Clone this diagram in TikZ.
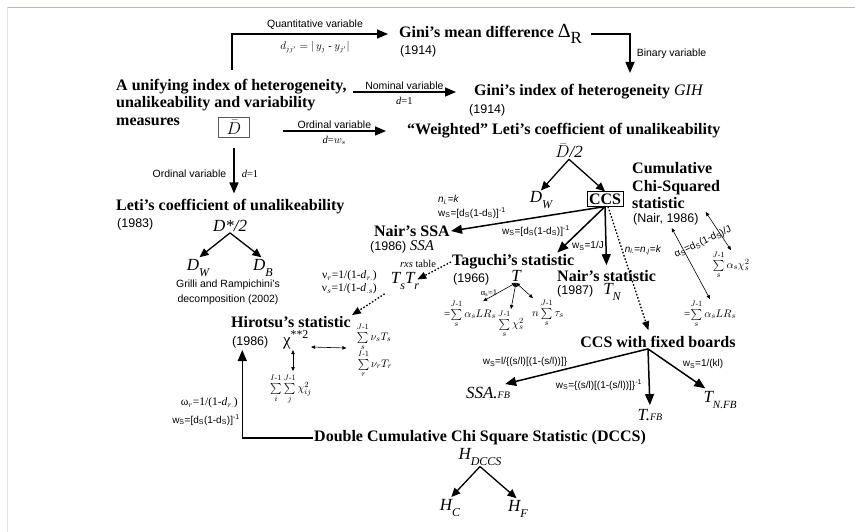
\documentclass[tikz,border=0pt]{standalone}
\usepackage{amsmath}
\usepackage{fontspec}
\setmainfont{Liberation Serif}
\setsansfont{Liberation Sans}
\usetikzlibrary{positioning,arrows.meta,calc}
\newcommand{\lsub}[2][12]{\raisebox{-.32em}{\fontsize{#1}{#1}\selectfont #2}}
\newcommand{\fbsmall}{{\fontsize{10}{10}\selectfont FB}}
\newcommand{\jmone}{J\text{-}1}
\newcommand{\imone}{I\text{-}1}

\begin{document}
\begin{tikzpicture}[x=1pt, y=-1pt,
    every node/.style={inner sep=1pt},
    ttl/.style={font=\bfseries\fontsize{16}{17.5}\selectfont, align=left},
    yr/.style={font=\sffamily\fontsize{12.5}{14}\selectfont},
    lbl/.style={font=\sffamily\fontsize{10.5}{15}\selectfont, align=center},
    wlbl/.style={font=\sffamily\fontsize{10}{12}\selectfont},
    eq/.style={font=\fontsize{10.5}{12}\selectfont},
    sm/.style={font=\fontsize{11}{12}\selectfont},
    sym/.style={font=\itshape\fontsize{17}{18}\selectfont},
    flow/.style={-{Triangle[length=11pt,width=9pt]}, line width=1.5pt},
    fork/.style={-{Triangle[length=9pt,width=8pt]}, line width=1.3pt},
    dotflow/.style={-{Triangle[length=9pt,width=7pt]}, line width=1.3pt, dash pattern=on 1.6pt off 1.8pt},
    twin/.style={{Triangle[length=4pt,width=3.4pt]}-{Triangle[length=4pt,width=3.4pt]}, line width=0.6pt},
  ]
  \useasboundingbox (0,0) rectangle (855,532);
  % screenshot frame
  \draw[line width=1.5pt, blue!30!gray!45] (7,7.5) -- (855,7.5);
  \draw[line width=1pt, gray!25] (7.5,7.5) -- (7.5,532);

  % unifying index and its branches
  \node[ttl, anchor=west] (unif) at (115,102) {A unifying index of heterogeneity,\\unalikeability and variability\\measures};
  \node[draw=black!65, minimum width=31pt, minimum height=20pt, font=\fontsize{16}{16}\selectfont] (dbar) at (234,127) {$\bar{D}$};
  \node[ttl, anchor=west] (gmd) at (398,34) {Gini’s mean difference {\mdseries\fontsize{20}{20}\selectfont Δ\lsub[17]{R}}};
  \node[yr, anchor=west] (gmdyr) at (399,51) {(1914)};
  \node[ttl, anchor=west] (gih) at (473,92) {Gini’s index of heterogeneity {\mdseries\itshape GIH}};
  \node[yr, anchor=west] (gihyr) at (468,110) {(1914)};
  \node[ttl, anchor=west] (wleti) at (406,131) {``Weighted'' Leti’s coefficient of unalikeability};
  \node[sym] (dbarh) at (569,151) {$\bar{D}$/2};
  \node[ttl, anchor=west] (leti) at (115,207) {Leti’s coefficient of unalikeability};
  \node[yr, anchor=west] (letiyr) at (116,224) {(1983)};
  \node[sym] (dstar) at (230,226) {D*/2};
  \node[sym] (dwa) at (198,268) {D\lsub{W}};
  \node[sym] (dba) at (263,268) {D\lsub{B}};
  \node[lbl] (grilli) at (228,292) {Grilli and Rampichini’s\\decomposition (2002)};

  % cumulative chi-squared family
  \node[sym] (dwb) at (541,200) {D\lsub{W}};
  \node[ttl, draw, inner sep=2pt] (ccs) at (605,199) {CCS};
  \node[ttl, anchor=west] (cum) at (631,186) {Cumulative\\Chi-Squared\\statistic};
  \node[yr, anchor=west] (cumyr) at (632,219) {(Nair, 1986)};
  \node[ttl, anchor=east] (ssa) at (451,231) {Nair’s SSA};
  \node[yr, anchor=west] (ssayr) at (369,247) {(1986) {\rmfamily\itshape\fontsize{15}{15}\selectfont SSA}};
  \node[ttl, anchor=west] (tag) at (451,262) {Taguchi’s statistic};
  \node[yr, anchor=west] (tagyr) at (452,279) {(1966)};
  \node[sym] (tagt) at (516,276) {T};
  \node[sm] (taglr) at (470,314) {=$\sum\limits_{s}^{\jmone}\alpha_s LR_s$};
  \node[sm] (tagchi) at (511,324) {$\sum\limits_{s}^{\jmone}\chi_s^2$};
  \node[sm] (tagtau) at (548,313) {$n\sum\limits_{s}^{\jmone}\tau_s$};
  \node[ttl, anchor=west] (nair) at (556,276) {Nair’s statistic};
  \node[yr, anchor=west] (nairyr) at (556,291) {(1987)};
  \node[sym] (tn) at (612,292) {T\lsub{N}};
  \node[sm] (rlr) at (710,314) {=$\sum\limits_{s}^{\jmone}\alpha_s LR_s$};
  \node[sm] (rchi) at (731,265) {$\sum\limits_{s}^{\jmone}\alpha_s\chi_s^2$};
  \node[wlbl, rotate=25] (alab) at (703,242) {α\textsubscript{S}=d\textsubscript{S}(1-d\textsubscript{S})/J};
  \node[wlbl, anchor=west] (nik) at (437,200) {\textit{n}\textsubscript{\textit{i.}}=\textit{k}};
  \node[wlbl, anchor=west] (wsa) at (437,213) {w\textsubscript{S}=[d\textsubscript{S}(1-d\textsubscript{S})]\textsuperscript{-1}};
  \node[wlbl] (wsb) at (536,231) {w\textsubscript{S}=[d\textsubscript{S}(1-d\textsubscript{S})]\textsuperscript{-1}};
  \node[wlbl] (wsc) at (588,246) {w\textsubscript{S}=1/J};
  \node[wlbl] (ninj) at (643,250) {\textit{n}\textsubscript{\textit{i.}}=\textit{n}\textsubscript{\textit{.j}}=\textit{k}};
  \node[font=\fontsize{8.5}{9}\selectfont] (as1) at (489,293) {α\textsubscript{s}=1};

  % Hirotsu
  \node[eq] (rxs) at (418,264) {\textit{rxs} table};
  \node[sym] (tst) at (405,281) {T\lsub{s}T\lsub{r}};
  \node[font=\fontsize{11.5}{12}\selectfont, anchor=east] (nur) at (378,276) {ν$_r$=1/(1-\textit{d}$_{r.}$)};
  \node[font=\fontsize{11.5}{12}\selectfont, anchor=east] (nus) at (378,289) {ν$_s$=1/(1-\textit{d}$_{.s}$)};
  \node[ttl, anchor=west] (hir) at (230,322) {Hirotsu’s statistic};
  \node[yr, anchor=west] (hiryr) at (231,342) {(1986)};
  \node[font=\fontsize{17}{17}\selectfont] (chi) at (296,340) {χ\textsuperscript{**2}};
  \node[sm] (hs1) at (374,337) {$\sum\limits_{s}^{\jmone}\nu_s T_s$};
  \node[sm] (hs2) at (375,364) {$\sum\limits_{r}^{\imone}\nu_r T_r$};
  \node[sm] (hs3) at (291,389) {$\sum\limits_{i}^{\imone}\sum\limits_{j}^{\jmone}\chi_{ij}^2$};

  % fixed boards
  \node[ttl] (ccsfb) at (658,342) {CCS with fixed boards};
  \node[sym] (ssafb) at (488,393) {SSA.\fbsmall};
  \node[sym] (tfb) at (650,415) {T.\fbsmall};
  \node[sym] (tnfb) at (720,400) {T\lsub[11]{N.FB}};
  \node[wlbl] (fba) at (525,362) {w\textsubscript{S}=l/\{(s/l)[(1-(s/l))]\}};
  \node[wlbl] (fbb) at (599,385) {w\textsubscript{S}=\{(s/l)[(1-(s/l))]\}\textsuperscript{-1}};
  \node[wlbl] (fbc) at (703,364) {w\textsubscript{S}=1/(kl)};

  % double cumulative
  \node[ttl, anchor=west] (dccs) at (313,438) {Double Cumulative Chi Square Statistic (DCCS)};
  \node[font=\fontsize{11.5}{12}\selectfont, anchor=east] (omr) at (239,403) {ω$_r$=1/(1-\textit{d}$_{r.}$)};
  \node[wlbl, anchor=east] (omw) at (241,420) {w\textsubscript{S}=[d\textsubscript{S}(1-d\textsubscript{S})]\textsuperscript{-1}};
  \node[sym] (hd) at (480,457) {H\lsub{DCCS}};
  \node[sym] (hc) at (450,508) {H\lsub{C}};
  \node[sym] (hf) at (518,509) {H\lsub{F}};

  % connectors
  \coordinate (quan) at (232,70);
  \coordinate (bin) at (630,73);
  \draw[flow, shorten >=10pt] (quan) |- node[pos=.75, lbl, above=3pt] (lquan) {Quantitative variable}
        node[pos=.75, eq, below=6pt] (ldjj) {$d_{jj'}=|\,y_j$ - $y_{j'}|$} (gmd.west);
  \draw[flow, shorten <=8pt] (gmd.east) -| node[pos=.75, lbl, right=5pt] (lbin) {Binary variable} (bin);
  \draw[flow] ($(unif.east |- gih.west)+(5,0)$) -- node[lbl, above=1pt] (lnom) {Nominal variable}
        node[eq, below=3pt] (ld1a) {\textit{d}=1} ($(gih.west)+(-17,0)$);
  \draw[flow] ($(dbar.east |- wleti.west)+(33,0)$) -- node[lbl, above=1pt] (lord) {Ordinal variable}
        node[eq, below=3pt] (ldw) {\textit{d}=$w_s$} ($(wleti.west)+(-20,0)$);
  \draw[flow, shorten <=11pt, shorten >=5pt] (dbar.south) -- (dbar.south |- leti.north)
        node[pos=.6, lbl, left=6pt] (lord2) {Ordinal variable} node[pos=.6, eq, right=6pt] (ld1b) {\textit{d}=1};
  \draw[fork, shorten >=2pt] (dstar.south) -- (dwa.north);
  \draw[fork, shorten >=2pt] (dstar.south) -- (dba.north);

  \draw[fork] (dbarh.south) -- (dwb.north);
  \draw[fork] (dbarh.south) -- (ccs.north);
  \draw[flow] (ccs.south) -- (ssa.east);
  \draw[flow] (ccs.south) -- ($(tag.north east)+(-18,-1)$);
  \draw[flow, shorten >=4pt] (ccs.south) -- (nair.north);
  \draw[dotflow, shorten >=5pt] ($(ccs.south)+(3,0)$) -- ($(ccsfb.north)+(-8,0)$);
  \draw[twin] (tagt.south) -- ($(taglr.north east)+(-14,2)$);
  \draw[twin] (tagt.south) -- (tagchi.north);
  \draw[twin] (tagt.south) -- ($(tagtau.north west)+(2,0)$);
  \draw[twin] ($(cumyr.south east)+(-28,2)$) -- (rlr.north);
  \draw[twin] ($(cumyr.north east)+(6,0)$) -- (rchi.north);

  \draw[dotflow] (tag.west) -- ($(tst.north east)+(-3,8)$);
  \draw[dotflow, shorten <=6pt] (tst.south west) -- (hir.north east);
  \draw[twin] ($(chi.east)+(1,7)$) -- ($(hs1.west)+(-9,11)$);
  \draw[twin] ($(chi.south)+(-3,0)$) -- ($(hs3.north)+(2,-2)$);

  \draw[flow] ($(ccsfb.south)+(-10,0)$) -- ($(ssafb.north east)+(-6,-2)$);
  \draw[flow, shorten >=3pt] ($(ccsfb.south)+(-10,0)$) -- (tfb.north);
  \draw[flow] ($(ccsfb.south)+(-10,0)$) -- ($(tnfb.north west)+(3,-2)$);

  \draw[flow, shorten >=1pt] (dccs.west) -| ($(hiryr.south)+(-8,0)$);
  \draw[fork, shorten >=2pt] (hd.south) -- (hc.north);
  \draw[fork, shorten >=2pt] (hd.south) -- (hf.north);
\end{tikzpicture}
\end{document}
